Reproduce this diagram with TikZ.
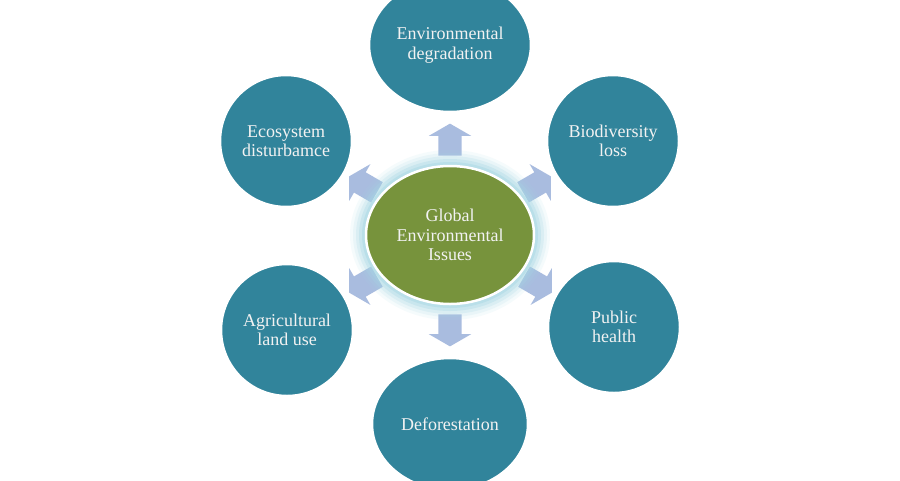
\documentclass[tikz,border=0pt]{standalone}
\usepackage{fontspec}
\setmainfont{Liberation Serif}
\usetikzlibrary{shapes.geometric,shapes.arrows}

\definecolor{topicblue}{HTML}{31849B}
\definecolor{issuegreen}{HTML}{77933C}
\definecolor{arrowblue}{HTML}{A9BCDF}
\definecolor{glowblue}{HTML}{A6D8E4}

\tikzset{
  topic/.style={ellipse, draw=white, line width=2.5pt, fill=topicblue, inner sep=0pt,
    text=white!95!black, align=center, font=\fontsize{18}{19.5}\selectfont},
  blockarrow/.style={single arrow, fill=arrowblue, inner xsep=0pt, inner ysep=11.5pt,
    single arrow head extend=9.5pt, single arrow tip angle=120, minimum height=32pt}
}

\begin{document}
\begin{tikzpicture}[x=1pt,y=-1pt]
\useasboundingbox[fill=white] (0,0) rectangle (900,480);

% outer topics
\node[topic, minimum width=162pt, minimum height=134pt] (degr) at (450,45) {Environmental\\degradation};
\node[topic, minimum width=132pt, minimum height=132pt] (eco) at (286,141) {Ecosystem\\disturbamce};
\node[topic, minimum width=132pt, minimum height=132pt] (bio) at (613,141) {Biodiversity\\loss};
\node[topic, minimum width=132pt, minimum height=132pt] (agri) at (287,330) {Agricultural\\land use};
\node[topic, minimum width=132pt, minimum height=132pt] (health) at (614,327) {Public\\health};
\node[topic, minimum width=156pt, minimum height=132pt] (defor) at (450,424) {Deforestation};

% arrows
\node[blockarrow, rotate=90] (a1) at (450,143) {};
\node[blockarrow, rotate=270] (a2) at (450,327) {};
\node[blockarrow, rotate=150] (a3) at (366,186) {};
\node[blockarrow, rotate=30] (a4) at (534,186) {};
\node[blockarrow, rotate=210] (a5) at (366,283) {};
\node[blockarrow, rotate=330] (a6) at (535,283) {};

% glow
\foreach \r/\o in {16/0.1, 13/0.15, 10/0.22, 7/0.32, 4/0.45}
  \fill[glowblue, opacity=\o] (450,235) ellipse ({84+\r} and {69+\r});

\node[ellipse, draw=white, line width=2.5pt, fill=issuegreen, minimum width=168pt, minimum height=138pt,
  inner sep=0pt, text=white!95!black, align=center, font=\fontsize{18}{19.5}\selectfont]
  (issues) at (450,235) {Global\\Environmental\\Issues};

\end{tikzpicture}
\end{document}
